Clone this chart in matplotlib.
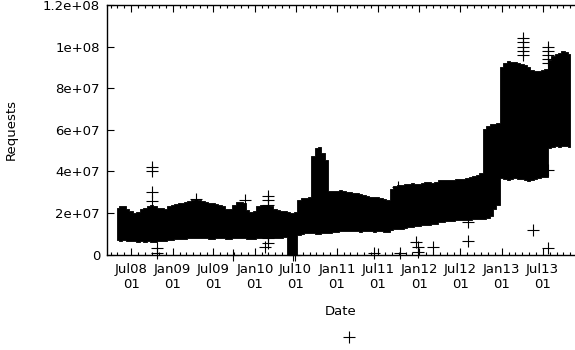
import numpy as np
import pandas as pd
import matplotlib
matplotlib.use("Agg")
from matplotlib import pyplot as plt
import matplotlib.dates as mdates
from matplotlib.lines import Line2D

# request counts, semi-monthly band (upper / lower), units of 1e7
dates = pd.date_range("2008-05-01", "2013-11-01", freq="SMS")
hi = [
    # 2008 May-Dec
    2.0, 2.05, 2.05, 1.95, 1.85, 1.75, 1.8, 1.95, 2.0, 2.05, 2.1, 2.05, 2.0, 2.0, 1.95, 2.05,
    # 2009
    2.1, 2.15, 2.2, 2.2, 2.25, 2.3, 2.35, 2.4, 2.35, 2.3, 2.25, 2.2,
    2.2, 2.15, 2.1, 2.05, 1.95, 1.95, 2.1, 2.25, 2.25, 2.2, 1.9, 1.8,
    # 2010
    1.85, 2.05, 2.1, 2.1, 2.1, 2.05, 1.95, 1.9, 1.85, 1.85, 1.8, 1.75,
    1.8, 2.35, 2.45, 2.45, 2.5, 4.5, 4.85, 4.9, 4.6, 4.3, 2.8, 2.8,
    # 2011
    2.8, 2.85, 2.8, 2.75, 2.75, 2.7, 2.7, 2.65, 2.6, 2.55, 2.5, 2.5,
    2.5, 2.45, 2.4, 2.35, 2.9, 3.05, 3.1, 3.1, 3.15, 3.15, 3.2, 3.15,
    # 2012
    3.15, 3.2, 3.25, 3.25, 3.2, 3.25, 3.3, 3.3, 3.3, 3.3, 3.3, 3.35,
    3.35, 3.35, 3.4, 3.45, 3.5, 3.55, 3.65, 5.8, 5.9, 6.0, 6.0, 6.05,
    # 2013 Jan-Nov
    8.75, 8.95, 9.05, 9.0, 9.0, 8.95, 8.9, 8.85, 8.75, 8.6, 8.55, 8.55,
    8.6, 8.65, 9.1, 9.3, 9.4, 9.45, 9.55, 9.5, 9.4,
]
lo = [
    0.95, 0.9, 0.95, 0.9, 0.9, 0.9, 0.85, 0.9, 0.85, 0.9, 0.85, 0.85, 0.9, 0.9, 0.9, 0.95,
    0.95, 1.0, 1.0, 1.0, 1.0, 1.05, 1.05, 1.05, 1.05, 1.05, 1.05, 1.0,
    1.0, 1.05, 1.05, 1.05, 1.0, 1.0, 1.05, 1.05, 1.05, 1.05, 1.0, 1.0,
    1.0, 1.05, 1.05, 1.05, 1.05, 1.05, 1.05, 1.05, 1.05, 1.1, 0.1, 0.05,
    0.1, 1.2, 1.25, 1.3, 1.3, 1.3, 1.25, 1.25, 1.3, 1.3, 1.3, 1.35,
    1.35, 1.4, 1.4, 1.4, 1.4, 1.4, 1.4, 1.35, 1.4, 1.4, 1.4, 1.35,
    1.4, 1.4, 1.35, 1.35, 1.45, 1.5, 1.5, 1.5, 1.55, 1.6, 1.6, 1.65,
    1.65, 1.7, 1.7, 1.7, 1.75, 1.75, 1.8, 1.8, 1.85, 1.85, 1.85, 1.9,
    1.9, 1.9, 1.9, 1.9, 1.95, 1.95, 1.95, 1.95, 2.0, 2.1, 2.45, 2.65,
    3.95, 3.9, 3.85, 3.9, 3.95, 3.9, 3.9, 3.85, 3.8, 3.85, 3.9, 3.95,
    4.0, 4.0, 5.4, 5.45, 5.5, 5.45, 5.5, 5.5, 5.45,
]

# isolated samples outside the main band
out_dates = pd.to_datetime([
    "2008-09-30", "2008-09-30", "2008-09-30", "2008-09-30", "2008-10-23", "2008-10-23",
    "2009-04-17", "2009-09-27", "2009-11-18",
    "2010-03-01", "2010-03-01", "2010-03-01", "2010-03-01", "2010-03-01", "2010-03-01",
    "2010-02-14", "2010-06-20", "2010-06-28",
    "2011-06-16", "2011-09-27", "2011-10-08", "2011-12-18", "2011-12-25", "2011-12-25",
    "2012-03-02", "2012-08-02", "2012-08-02",
    "2013-04-05", "2013-04-05", "2013-04-05", "2013-04-05", "2013-04-05",
    "2013-05-18",
    "2013-07-23", "2013-07-23", "2013-07-23", "2013-07-23", "2013-07-23", "2013-07-23", "2013-07-23",
])
out_vals = [
    4.2, 4.0, 3.0, 2.55, 0.3, 0.05,
    2.65, 0.0, 2.6,
    2.8, 2.6, 2.4, 1.0, 0.77, 0.53,
    0.35, 0.0, 0.0,
    0.05, 3.25, 0.05, 0.6, 0.35, 0.1,
    0.38, 1.55, 0.67,
    10.4, 10.2, 10.0, 9.8, 9.6,
    1.2,
    10.0, 9.8, 9.6, 9.4, 9.2, 4.05, 0.3,
]

hi = np.array(hi) * 1e7
lo = np.array(lo) * 1e7
out_vals = np.array(out_vals) * 1e7

plt.rcParams["font.family"] = "DejaVu Sans"
plt.rcParams["font.size"] = 9.5

fig = plt.figure(figsize=(5.75, 3.5), dpi=100)
ax = fig.add_axes([107 / 575, 95.5 / 350, 1 - 107 / 575, 249.5 / 350])

# band drawn out to where the '+' points of each sample end (half a marker)
half = 0.26e7
ax.fill_between(dates, np.maximum(lo - half, 0), hi + half, step="mid",
                color="black", lw=0.6, edgecolor="black")
pk = dict(ls="none", marker="+", color="black", ms=8, mew=0.8)
ax.plot(out_dates, out_vals, clip_on=False, **pk)

ax.set_xlim(pd.Timestamp("2008-03-16"), pd.Timestamp("2013-11-22"))
ax.set_ylim(0, 1.2e8)
ax.set_yticks(np.arange(0, 1.21e8, 2e7))
ax.set_yticklabels(["0", "2e+07", "4e+07", "6e+07", "8e+07", "1e+08", "1.2e+08"])

ax.xaxis.set_major_locator(mdates.MonthLocator(bymonth=[1, 7]))
ax.xaxis.set_minor_locator(mdates.MonthLocator())
ax.xaxis.set_major_formatter(mdates.DateFormatter("%b%y\n%d"))

ax.tick_params(axis="x", which="major", direction="in", length=5, width=0.8,
               top=True, pad=6)
ax.tick_params(axis="x", which="minor", direction="in", length=2.5, width=0.8, top=True)
ax.tick_params(axis="y", direction="in", length=5, width=0.8, right=False, pad=5)
for lbl in ax.get_xticklabels():
    lbl.set_horizontalalignment("center")
    lbl.set_multialignment("center")

ax.spines["right"].set_visible(False)
for s in ["left", "bottom", "top"]:
    ax.spines[s].set_linewidth(1.0)

ax.set_xlabel("Date", labelpad=10)
ax.set_ylabel("Requests", labelpad=18)

fig.legend(handles=[Line2D([], [], **pk)], labels=[""], loc="center",
           bbox_to_anchor=(349 / 575, 12 / 350), frameon=False,
           handlelength=1.0, handletextpad=0, borderpad=0)

fig.savefig("out.png", dpi=100)
